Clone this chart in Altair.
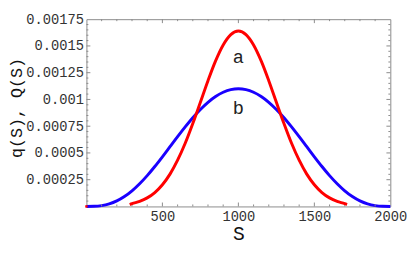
import altair as alt
import pandas as pd

# ---- data ----
S_blue = [0, 50, 100, 150, 200, 250, 300, 350, 400, 450, 500, 550, 600, 650, 700, 750, 800, 850, 900, 950,
          1000, 1050, 1100, 1150, 1200, 1250, 1300, 1350, 1400, 1450, 1500, 1550, 1600, 1650, 1700, 1750,
          1800, 1850, 1900, 1950, 2000]
Q_blue = [0.0, 0.000001, 0.0000075, 0.0000235, 0.0000513, 0.0000921, 0.000146, 0.000212, 0.000288, 0.000373,
          0.000464, 0.000558, 0.000652, 0.000743, 0.000829, 0.000906, 0.000973, 0.001027, 0.001067, 0.001092,
          0.0011, 0.001092, 0.001067, 0.001027, 0.000973, 0.000906, 0.000829, 0.000743, 0.000652, 0.000558,
          0.000464, 0.000373, 0.000288, 0.000212, 0.000146, 0.0000921, 0.0000513, 0.0000235, 0.0000075,
          0.000001, 0.0]

S_red = [285, 300, 350, 400, 450, 500, 550, 600, 650, 700, 750, 800, 850, 900, 950, 1000,
         1050, 1100, 1150, 1200, 1250, 1300, 1350, 1400, 1450, 1500, 1550, 1600, 1650, 1700, 1715]
q_red = [0.000018, 0.000026, 0.000047, 0.00008, 0.00013, 0.000203, 0.000302, 0.000432, 0.00059, 0.000775,
         0.000974, 0.001175, 0.00136, 0.001509, 0.001606, 0.00164, 0.001606, 0.001509, 0.00136, 0.001175,
         0.000974, 0.000775, 0.00059, 0.000432, 0.000302, 0.000203, 0.00013, 0.00008, 0.000047, 0.000026,
         0.000018]

red_dot_S = [0]
red_dot_q = [0.0]

curve_labels = ["a", "b"]
label_S = [1000, 1000]
label_q = [0.0014, 0.000915]

x_label_values = [500, 1000, 1500, 2000]
y_label_values = [0.00025, 0.0005, 0.00075, 0.001, 0.00125, 0.0015, 0.00175]
x_major_ticks = [500, 1000, 1500]
x_minor_ticks = [100, 200, 300, 400, 600, 700, 800, 900, 1100, 1200, 1300, 1400, 1600, 1700, 1800, 1900]
y_major_ticks = [0.00025, 0.0005, 0.00075, 0.001, 0.00125, 0.0015]
y_minor_ticks = [0.00005, 0.0001, 0.00015, 0.0002, 0.0003, 0.00035, 0.0004, 0.00045, 0.00055, 0.0006,
                 0.00065, 0.0007, 0.0008, 0.00085, 0.0009, 0.00095, 0.00105, 0.0011, 0.00115, 0.0012,
                 0.0013, 0.00135, 0.0014, 0.00145, 0.00155, 0.0016, 0.00165, 0.0017]

W, H = 310, 191
FONT = "Liberation Mono"
FRAME = "#8a8a8a"

blue_df = pd.DataFrame({"S": S_blue, "v": Q_blue})
red_df = pd.DataFrame({"S": S_red, "v": q_red})
dot_df = pd.DataFrame({"S": red_dot_S, "v": red_dot_q})
lab_df = pd.DataFrame({"S": label_S, "v": label_q, "t": curve_labels})

xs = alt.Scale(domain=[0, 2000], nice=False, zero=False)
ys = alt.Scale(domain=[0, 0.00175], nice=False, zero=False)

x_axis = alt.Axis(values=x_label_values, format="d", ticks=False, domain=False, grid=False,
                  labelFont=FONT, labelFontSize=14, labelColor="#333333", labelPadding=3,
                  labelFlush=False, labelOverlap=False,
                  title="S", titleFont=FONT, titleFontSize=20, titleFontWeight="normal",
                  titleColor="#111111", titleX=W / 2, titleY=28, titleBaseline="middle")
y_axis = alt.Axis(values=y_label_values, format=".5~f", ticks=False, domain=False, grid=False,
                  labelFont=FONT, labelFontSize=14, labelColor="#333333", labelPadding=3,
                  labelBaseline="middle", labelFlush=False, labelOverlap=False,
                  title="q(S), Q(S)", titleFont=FONT, titleFontSize=17, titleFontWeight="normal",
                  titleColor="#111111", titleX=-71, titleY=90, titleBaseline="middle",
                  titleAngle=270)

def X(field="S"):
    return alt.X(f"{field}:Q", scale=xs, axis=x_axis, title="S")

def Y(field="v"):
    return alt.Y(f"{field}:Q", scale=ys, axis=y_axis, title="q(S), Q(S)")

blue = alt.Chart(blue_df).mark_line(color="#1a00ff", strokeWidth=3, interpolate="monotone").encode(
    x=X(), y=Y())
red = alt.Chart(red_df).mark_line(color="#ff0000", strokeWidth=3, interpolate="monotone").encode(
    x=X(), y=Y())
dot = alt.Chart(dot_df).mark_square(color="#ff0000", size=6, opacity=1).encode(x=X(), y=Y())
labels = alt.Chart(lab_df).mark_text(font=FONT, fontSize=19, color="#222222", baseline="middle").encode(
    x=X(), y=Y(), text="t:N")

def xticks(vals, length):
    df = pd.DataFrame({"S": vals})
    bottom = alt.Chart(df).mark_rule(color=FRAME, strokeWidth=1).encode(
        x=X(), y=alt.value(H), y2=alt.value(H - length))
    top = alt.Chart(df).mark_rule(color=FRAME, strokeWidth=1).encode(
        x=X(), y=alt.value(0), y2=alt.value(length))
    return [bottom, top]

def yticks(vals, length):
    df = pd.DataFrame({"v": vals})
    left = alt.Chart(df).mark_rule(color=FRAME, strokeWidth=1).encode(
        y=Y(), x=alt.value(0), x2=alt.value(length))
    right = alt.Chart(df).mark_rule(color=FRAME, strokeWidth=1).encode(
        y=Y(), x=alt.value(W), x2=alt.value(W - length))
    return [left, right]

layers = ([blue] + xticks(x_major_ticks, 4) + xticks(x_minor_ticks, 2) +
          yticks(y_major_ticks, 4) + yticks(y_minor_ticks, 2) +
          [red, dot, labels])

chart = alt.layer(*layers).properties(
    width=W, height=H,
    autosize=alt.AutoSizeParams(type="none"),
    padding={"left": 80, "top": 9, "right": 17, "bottom": 41},
    background="white",
).configure_view(stroke=FRAME, strokeWidth=1)

chart.save("out.html", embed_options={"renderer": "svg", "actions": False})
